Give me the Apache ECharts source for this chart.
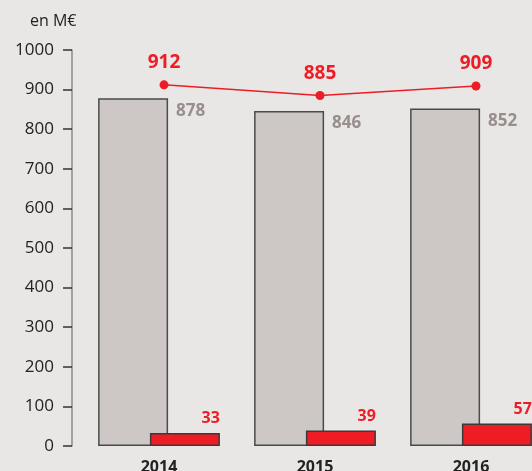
<!DOCTYPE html>
<html>
<head>
<meta charset="utf-8">
<script src="https://cdn.jsdelivr.net/npm/echarts@6/dist/echarts.min.js"></script>
<style>
  html, body { margin: 0; padding: 0; background: #e8e7e5; }
  #chart { width: 532px; height: 471px; }
</style>
</head>
<body>
<div id="chart"></div>
<script>
var years = ['2014', '2015', '2016'];
var greyValues = [878, 846, 852];
var redValues = [33, 39, 57];
var lineValues = [912, 885, 909];
var yTicks = [0, 100, 200, 300, 400, 500, 600, 700, 800, 900, 1000];

(function () {
  var RED = '#ee1c25';
  var FONT = '"Open Sans", "Noto Sans", sans-serif';
  var yMin = yTicks[0], yMax = yTicks[yTicks.length - 1];

  var c = echarts.init(document.getElementById('chart'), null, { renderer: 'canvas' });
  c.setOption({
    animation: false,
    backgroundColor: '#e8e7e5',
    title: {
      text: 'en M€', left: 25, top: 8,
      textStyle: { fontFamily: FONT, fontSize: 16, fontWeight: 'normal', color: '#222' }
    },
    // second grid is the same plot shifted a few px right: the line sits slightly off the bar centres
    grid: [
      { left: 81, top: 50, width: 468, bottom: 25, containLabel: false, outerBoundsMode: 'none' },
      { left: 86, top: 50, width: 468, bottom: 25, containLabel: false, outerBoundsMode: 'none' }
    ],
    xAxis: [{
      type: 'category', data: years, gridIndex: 0,
      axisLine: { show: false }, axisTick: { show: false },
      axisLabel: { margin: 13, color: '#222', fontFamily: FONT, fontSize: 16, fontWeight: 'bold' }
    }, {
      type: 'category', data: years, gridIndex: 1, show: false
    }],
    yAxis: [{
      type: 'value', min: yMin, max: yMax, interval: 100, gridIndex: 0,
      offset: 9,
      splitLine: { show: false },
      axisLine: { show: true, lineStyle: { color: '#8a8a8a', width: 1.5 } },
      axisTick: { show: true, length: 9, lineStyle: { color: '#333', width: 1.5 } },
      axisLabel: {
        margin: 18, color: '#222', fontFamily: FONT, fontSize: 17,
        formatter: function (v) { return String(v); }
      }
    }, {
      type: 'value', min: yMin, max: yMax, gridIndex: 1, show: false, splitLine: { show: false }
    }],
    series: [
      {
        type: 'bar', data: greyValues, barWidth: 70, barGap: '-26%',
        itemStyle: { color: '#cdc8c5', borderColor: '#4a4a4a', borderWidth: 1.5 },
        label: {
          show: true, position: [78, 4], align: 'left', verticalAlign: 'top',
          color: '#978f8b', fontFamily: FONT, fontSize: 17, fontWeight: 'bold'
        },
        z: 2
      },
      {
        type: 'bar', data: redValues, barWidth: 70,
        itemStyle: { color: RED, borderColor: '#3a3a3a', borderWidth: 1.5 },
        label: {
          show: true, position: [70, -6], align: 'right', verticalAlign: 'bottom',
          color: RED, fontFamily: FONT, fontSize: 16, fontWeight: 'bold'
        },
        z: 3
      },
      {
        type: 'line', data: lineValues, xAxisIndex: 1, yAxisIndex: 1,
        symbol: 'circle', symbolSize: 9,
        itemStyle: { color: RED },
        lineStyle: { color: RED, width: 1.5 },
        label: {
          show: true, position: 'top', distance: 8,
          color: RED, fontFamily: FONT, fontSize: 19, fontWeight: 'bold'
        },
        z: 4
      }
    ]
  });
})();
</script>
</body>
</html>
